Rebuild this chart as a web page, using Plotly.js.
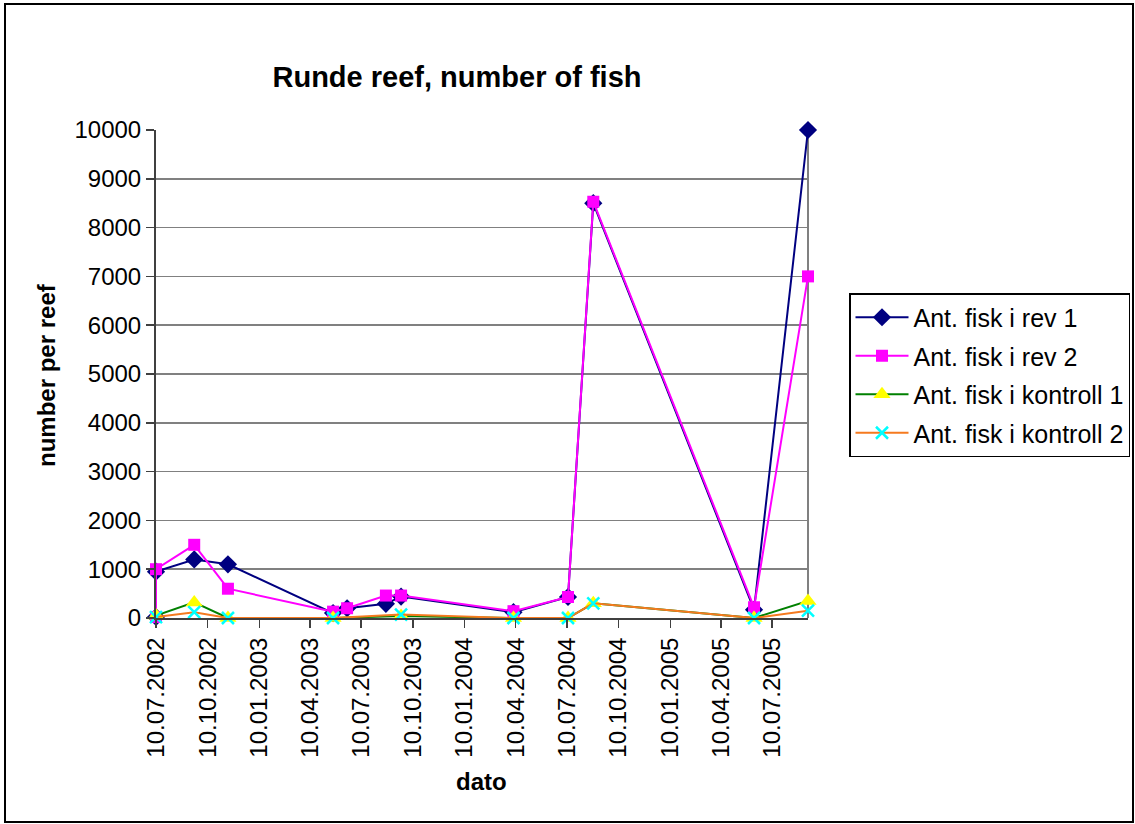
<!DOCTYPE html>
<html>
<head>
<meta charset="utf-8">
<script src="https://cdn.plot.ly/plotly-3.0.1.min.js"></script>
<style>
  html, body { margin: 0; padding: 0; background: #ffffff; }
  #chart { width: 1135px; height: 824px; }
</style>
</head>
<body>
<div id="chart"></div>
<script>
// Survey dates for the two reefs (two counts logged on the first day)
const revDates = ['2002-07-10', '2002-07-10', '2002-09-16', '2002-11-15', '2003-05-21',
                  '2003-06-15', '2003-08-23', '2003-09-19', '2004-04-06', '2004-07-12',
                  '2004-08-26', '2005-06-08', '2005-09-12'];
const rev1 = [20, 950, 1200, 1100, 100, 200, 290, 440, 120, 430, 8500, 170, 10000];
const rev2 = [20, 1000, 1500, 600, 130, 200, 460, 460, 140, 430, 8530, 220, 7000];

// Survey dates for the two control sites
const kontrollDates = ['2002-07-10', '2002-09-16', '2002-11-15', '2003-05-21', '2003-09-19',
                       '2004-04-06', '2004-07-12', '2004-08-26', '2005-06-08', '2005-09-12'];
const kontroll1 = [50, 320, 0, 0, 40, 0, 0, 300, 0, 350];
const kontroll2 = [20, 120, 0, 0, 70, 0, 0, 300, 0, 150];

const seriesNames = ['Ant. fisk i rev 1', 'Ant. fisk i rev 2',
                     'Ant. fisk i kontroll 1', 'Ant. fisk i kontroll 2'];

const chartTitle = 'Runde reef, number of fish';
const xTitle = 'dato';
const yTitle = 'number per reef';

// Plot-area geometry in page pixels
const W = 1135, H = 824;
const plotL = 156, plotR = 808, plotT = 130, plotB = 618;
const px2x = px => (px - plotL) / (plotR - plotL);
const px2y = py => (plotB - py) / (plotB - plotT);

const FONT = 'Liberation Sans, Arial, sans-serif';

const traces = [
  {
    x: revDates, y: rev1, name: seriesNames[0], legendgroup: 'a',
    type: 'scatter', mode: 'lines+markers', cliponaxis: false,
    line: { color: '#000080', width: 2 },
    marker: { symbol: 'diamond', size: 14, color: '#000080' }
  },
  {
    x: revDates, y: rev2, name: seriesNames[1], legendgroup: 'b',
    type: 'scatter', mode: 'lines+markers', cliponaxis: false,
    line: { color: '#FF00FF', width: 2 },
    marker: { symbol: 'square', size: 12, color: '#FF00FF' }
  },
  {
    x: kontrollDates, y: kontroll1, name: seriesNames[2], legendgroup: 'c',
    type: 'scatter', mode: 'lines+markers', cliponaxis: false,
    line: { color: '#008000', width: 2 },
    marker: { symbol: 'triangle-up', size: 15, color: '#FFFF00' }
  },
  {
    x: kontrollDates, y: kontroll2, name: seriesNames[3], legendgroup: 'd',
    type: 'scatter', mode: 'lines+markers', cliponaxis: false,
    line: { color: '#F57A1F', width: 2 },
    marker: { symbol: 'x-thin', size: 12, color: '#00FFFF',
              line: { color: '#00FFFF', width: 2.5 } }
  }
];

const allDates = revDates.concat(kontrollDates).sort();

const layout = {
  width: W, height: H,
  margin: { l: plotL, r: W - plotR, t: plotT, b: H - plotB, pad: 0, autoexpand: false },
  paper_bgcolor: '#ffffff',
  plot_bgcolor: '#ffffff',
  font: { family: FONT, size: 24, color: '#000000' },
  showlegend: true,
  title: {
    text: chartTitle,
    font: { family: FONT, size: 29, weight: 'bold', color: '#000000' },
    xref: 'paper', x: px2x(457), xanchor: 'center',
    yref: 'container', y: 1 - 77 / H, yanchor: 'middle'
  },
  xaxis: {
    type: 'date',
    range: [allDates[0], allDates[allDates.length - 1]],
    tick0: '2002-07-10', dtick: 'M3',
    tickformat: '%d.%m.%Y',
    tickangle: -90,
    tickfont: { family: FONT, size: 24, color: '#000000' },
    ticks: 'outside', ticklen: 8, tickwidth: 1.5, tickcolor: '#404040',
    showline: true, linecolor: '#404040', linewidth: 2,
    showgrid: false, zeroline: false, fixedrange: true
  },
  yaxis: {
    range: [0, 10000], dtick: 1000, tick0: 0,
    tickformat: 'd',
    tickfont: { family: FONT, size: 24, color: '#000000' },
    ticks: 'outside', ticklen: 8, tickwidth: 1.5, tickcolor: '#404040',
    showline: true, linecolor: '#404040', linewidth: 2,
    showgrid: true, gridcolor: '#808080', gridwidth: 1.5,
    zeroline: false, fixedrange: true
  },
  legend: {
    xref: 'container', yref: 'container',
    x: 849 / W, xanchor: 'left',
    y: 1 - 293 / H, yanchor: 'top',
    bgcolor: '#ffffff', bordercolor: '#000000', borderwidth: 1.5,
    font: { family: FONT, size: 25, color: '#000000' },
    tracegroupgap: 3,
    itemwidth: 53
  },
  annotations: [
    {
      text: yTitle, textangle: -90, showarrow: false,
      xref: 'paper', yref: 'paper',
      x: px2x(46), y: px2y(375), xanchor: 'center', yanchor: 'middle',
      font: { family: FONT, size: 24, weight: 'bold', color: '#000000' }
    },
    {
      text: xTitle, showarrow: false,
      xref: 'paper', yref: 'paper',
      x: px2x(481), y: px2y(781), xanchor: 'center', yanchor: 'middle',
      font: { family: FONT, size: 24, weight: 'bold', color: '#000000' }
    }
  ],
  shapes: [
    // right edge of the plot area
    {
      type: 'line', xref: 'paper', yref: 'paper', layer: 'below',
      x0: 1, x1: 1, y0: 0, y1: 1,
      line: { color: '#808080', width: 2 }
    },
    // frame around the whole chart
    {
      type: 'rect', xref: 'paper', yref: 'paper', layer: 'above',
      x0: px2x(5), x1: px2x(1133), y0: px2y(822), y1: px2y(4),
      line: { color: '#000000', width: 2 }, fillcolor: 'rgba(0,0,0,0)'
    }
  ]
};

Plotly.newPlot('chart', traces, layout, { displayModeBar: false, staticPlot: true });
</script>
</body>
</html>
